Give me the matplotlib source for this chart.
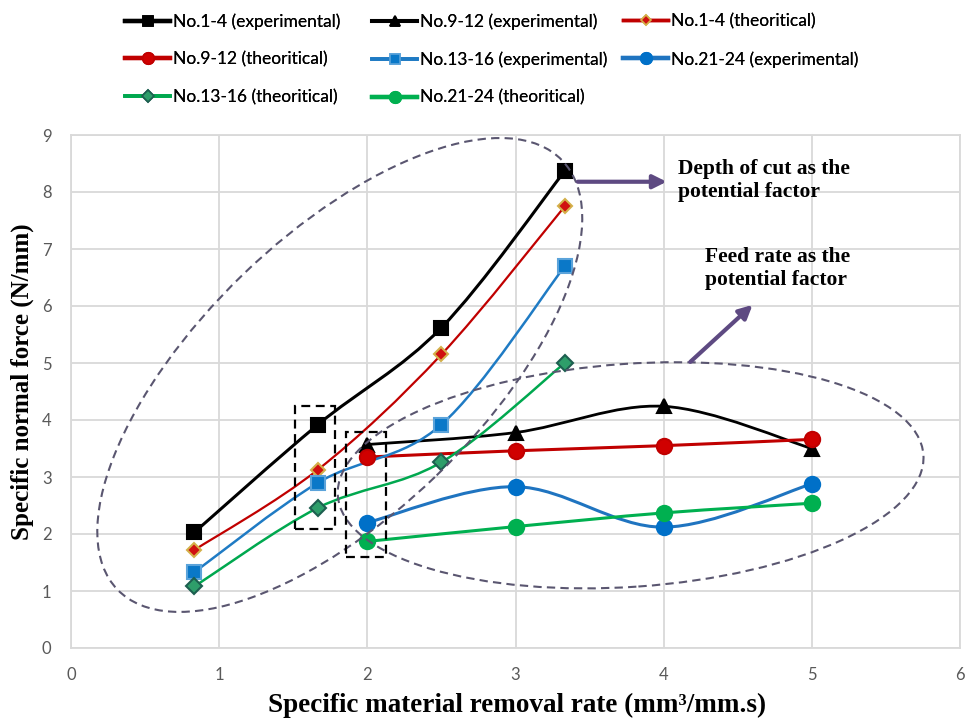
import matplotlib
matplotlib.use("Agg")
import matplotlib.pyplot as plt
from matplotlib.path import Path
from matplotlib.patches import PathPatch, Ellipse, Rectangle
from matplotlib.lines import Line2D
from matplotlib.transforms import ScaledTranslation
import numpy as np

# ---------------- data ----------------
x_14 = [0.833, 1.667, 2.5, 3.333]
y_14_exp = [2.03, 3.92, 5.62, 8.37]
y_14_theo = [1.72, 3.13, 5.15, 7.75]
y_1316_exp = [1.33, 2.90, 3.92, 6.70]
y_1316_theo = [1.08, 2.46, 3.26, 5.00]

x_912 = [2, 3, 4, 5]
y_912_exp = [3.57, 3.78, 4.24, 3.50]
y_912_theo = [3.35, 3.46, 3.55, 3.66]
y_2124_exp = [2.20, 2.83, 2.12, 2.88]
y_2124_theo = [1.87, 2.13, 2.37, 2.54]

x_ticks = [0, 1, 2, 3, 4, 5, 6]
y_ticks = [0, 1, 2, 3, 4, 5, 6, 7, 8, 9]

x_label = "Specific material removal rate (mm³/mm.s)"
y_label = "Specific normal force (N/mm)"
note_depth = "Depth of cut as the\npotential factor"
note_feed = "Feed rate as the\npotential factor"

# ---------------- figure ----------------
fig = plt.figure(figsize=(9.76, 7.22), dpi=100)
ax = fig.add_axes([71/976, 74/722, (960-71)/976, (648-135)/722])
ax.set_xlim(0, 6)
ax.set_ylim(0, 9)
ax.set_xticks(x_ticks)
ax.set_yticks(y_ticks)
grid_c = "#D9D9D9"
ax.grid(True, color=grid_c, lw=1.3, zorder=0)
ax.set_axisbelow(True)
for s in ax.spines.values():
    s.set_color(grid_c)
    s.set_linewidth(1.3)
ax.tick_params(length=0, labelsize=12, labelcolor="#595959", pad=14)
for lab in ax.get_xticklabels() + ax.get_yticklabels():
    lab.set_fontfamily("Lato")

serif = "Liberation Serif"
ax.set_xlabel(x_label, fontfamily=serif, fontweight="bold", fontsize=19.5, va="center")
ax.set_ylabel(y_label, fontfamily=serif, fontweight="bold", fontsize=18, va="center")
ax.xaxis.set_label_coords(0.502, -0.111)
ax.yaxis.set_label_coords(-0.055, 0.52)


def smooth_path(xs, ys):
    pts = np.column_stack([xs, ys]).astype(float)
    n = len(pts)
    verts = [pts[0]]
    codes = [Path.MOVETO]
    for i in range(n - 1):
        p0 = pts[i - 1] if i > 0 else pts[i]
        p1 = pts[i]
        p2 = pts[i + 1]
        p3 = pts[i + 2] if i + 2 < n else pts[i + 1]
        c1 = p1 + (p2 - p0) / 6.0
        c2 = p2 - (p3 - p1) / 6.0
        verts += [c1, c2, p2]
        codes += [Path.CURVE4] * 3
    return Path(verts, codes)


series = [
    # xs, ys, label, line color, lw, marker, ms, face, edge
    (x_14, y_14_exp, "No.1-4 (experimental)", "#000000", 2.2, "s", 10, "#000000", "#000000"),
    (x_912, y_912_exp, "No.9-12 (experimental)", "#000000", 2.0, "^", 10, "#000000", "#000000"),
    (x_14, y_14_theo, "No.1-4 (theoritical)", "#C00000", 1.6, "D", 7, "#D01010", "#D4B04A"),
    (x_912, y_912_theo, "No.9-12 (theoritical)", "#C00000", 2.2, "o", 11, "#D00000", "#C00000"),
    (x_14, y_1316_exp, "No.13-16 (experimental)", "#1F7BC4", 1.8, "s", 10, "#0A78C8", "#5BA3DA"),
    (x_912, y_2124_exp, "No.21-24 (experimental)", "#1F74C0", 2.2, "o", 11, "#0070C8", "#0070C8"),
    (x_14, y_1316_theo, "No.13-16 (theoritical)", "#00A84F", 1.8, "D", 8, "#2E9E6A", "#1D5F50"),
    (x_912, y_2124_theo, "No.21-24 (theoritical)", "#00B050", 2.2, "o", 11, "#00B050", "#00B050"),
]

handles = {}
for xs, ys, lab, lc, lw, mk, ms, fc, ec in series:
    patch = PathPatch(smooth_path(xs, ys), facecolor="none", edgecolor=lc, lw=lw, zorder=3)
    ax.add_patch(patch)
    ax.plot(xs, ys, linestyle="none", marker=mk, ms=ms, markerfacecolor=fc,
            markeredgecolor=ec, markeredgewidth=1.5, zorder=4)
    handles[lab] = Line2D([], [], color=lc, lw=lw + 0.9, marker=mk, ms=ms * 0.75,
                          markerfacecolor=fc, markeredgecolor=ec, markeredgewidth=1.2)

# ---------------- ellipses (annotation shapes) ----------------
ell_c = "#5A5670"
t1 = fig.dpi_scale_trans + ScaledTranslation(1.814, 4.79, ax.transData)
e1 = Ellipse((0, 0), 6.18, 2.79, angle=44, transform=t1, fill=False,
             edgecolor=ell_c, lw=1.5, linestyle=(0, (4, 2.5)), zorder=5)
ax.add_patch(e1)
t2 = fig.dpi_scale_trans + ScaledTranslation(3.777, 3.03, ax.transData)
e2 = Ellipse((0, 0), 5.87, 2.23, angle=4, transform=t2, fill=False,
             edgecolor=ell_c, lw=1.5, linestyle=(0, (4, 2.5)), zorder=5)
ax.add_patch(e2)

# dashed boxes
ax.add_patch(Rectangle((1.514, 2.09), 0.27, 2.16, fill=False, edgecolor="black",
                       lw=1.6, linestyle=(0, (4, 2.5)), zorder=5))
ax.add_patch(Rectangle((1.858, 1.60), 0.27, 2.19, fill=False, edgecolor="black",
                       lw=1.6, linestyle=(0, (4, 2.5)), zorder=5))

# arrows
arr_c = "#5E4A82"
ax.annotate("", xy=(4.02, 8.18), xytext=(3.42, 8.18),
            arrowprops=dict(arrowstyle="-|>,head_length=0.8,head_width=0.4",
                            color=arr_c, lw=3, shrinkA=0, shrinkB=0), zorder=6)
ax.annotate("", xy=(4.60, 6.02), xytext=(4.18, 5.02),
            arrowprops=dict(arrowstyle="-|>,head_length=0.8,head_width=0.4",
                            color=arr_c, lw=3, shrinkA=0, shrinkB=0), zorder=6)

ax.text(4.10, 8.58, note_depth, fontfamily=serif, fontweight="bold", fontsize=15.5,
        va="top", ha="left", linespacing=1.2, zorder=6)
ax.text(4.28, 7.03, note_feed, fontfamily=serif, fontweight="bold", fontsize=15.5,
        va="top", ha="left", linespacing=1.2, zorder=6)

# ---------------- legend (3 columns, row-major order like the original) ----------------
cols = [
    ["No.1-4 (experimental)", "No.9-12 (theoritical)", "No.13-16 (theoritical)"],
    ["No.9-12 (experimental)", "No.13-16 (experimental)", "No.21-24 (theoritical)"],
    ["No.1-4 (theoritical)", "No.21-24 (experimental)"],
]
col_x = [113/976, 360/976, 611/976]
for cx, labs in zip(col_x, cols):
    leg = fig.legend([handles[l] for l in labs], labs, loc="upper left",
                     bbox_to_anchor=(cx, 1 - 1/722), frameon=False,
                     prop={"family": "Lato", "size": 12.5}, handlelength=2.6,
                     handletextpad=0.15, labelspacing=1.25, borderpad=0.2)
    fig.add_artist(leg)

fig.savefig("out.png", dpi=100)
